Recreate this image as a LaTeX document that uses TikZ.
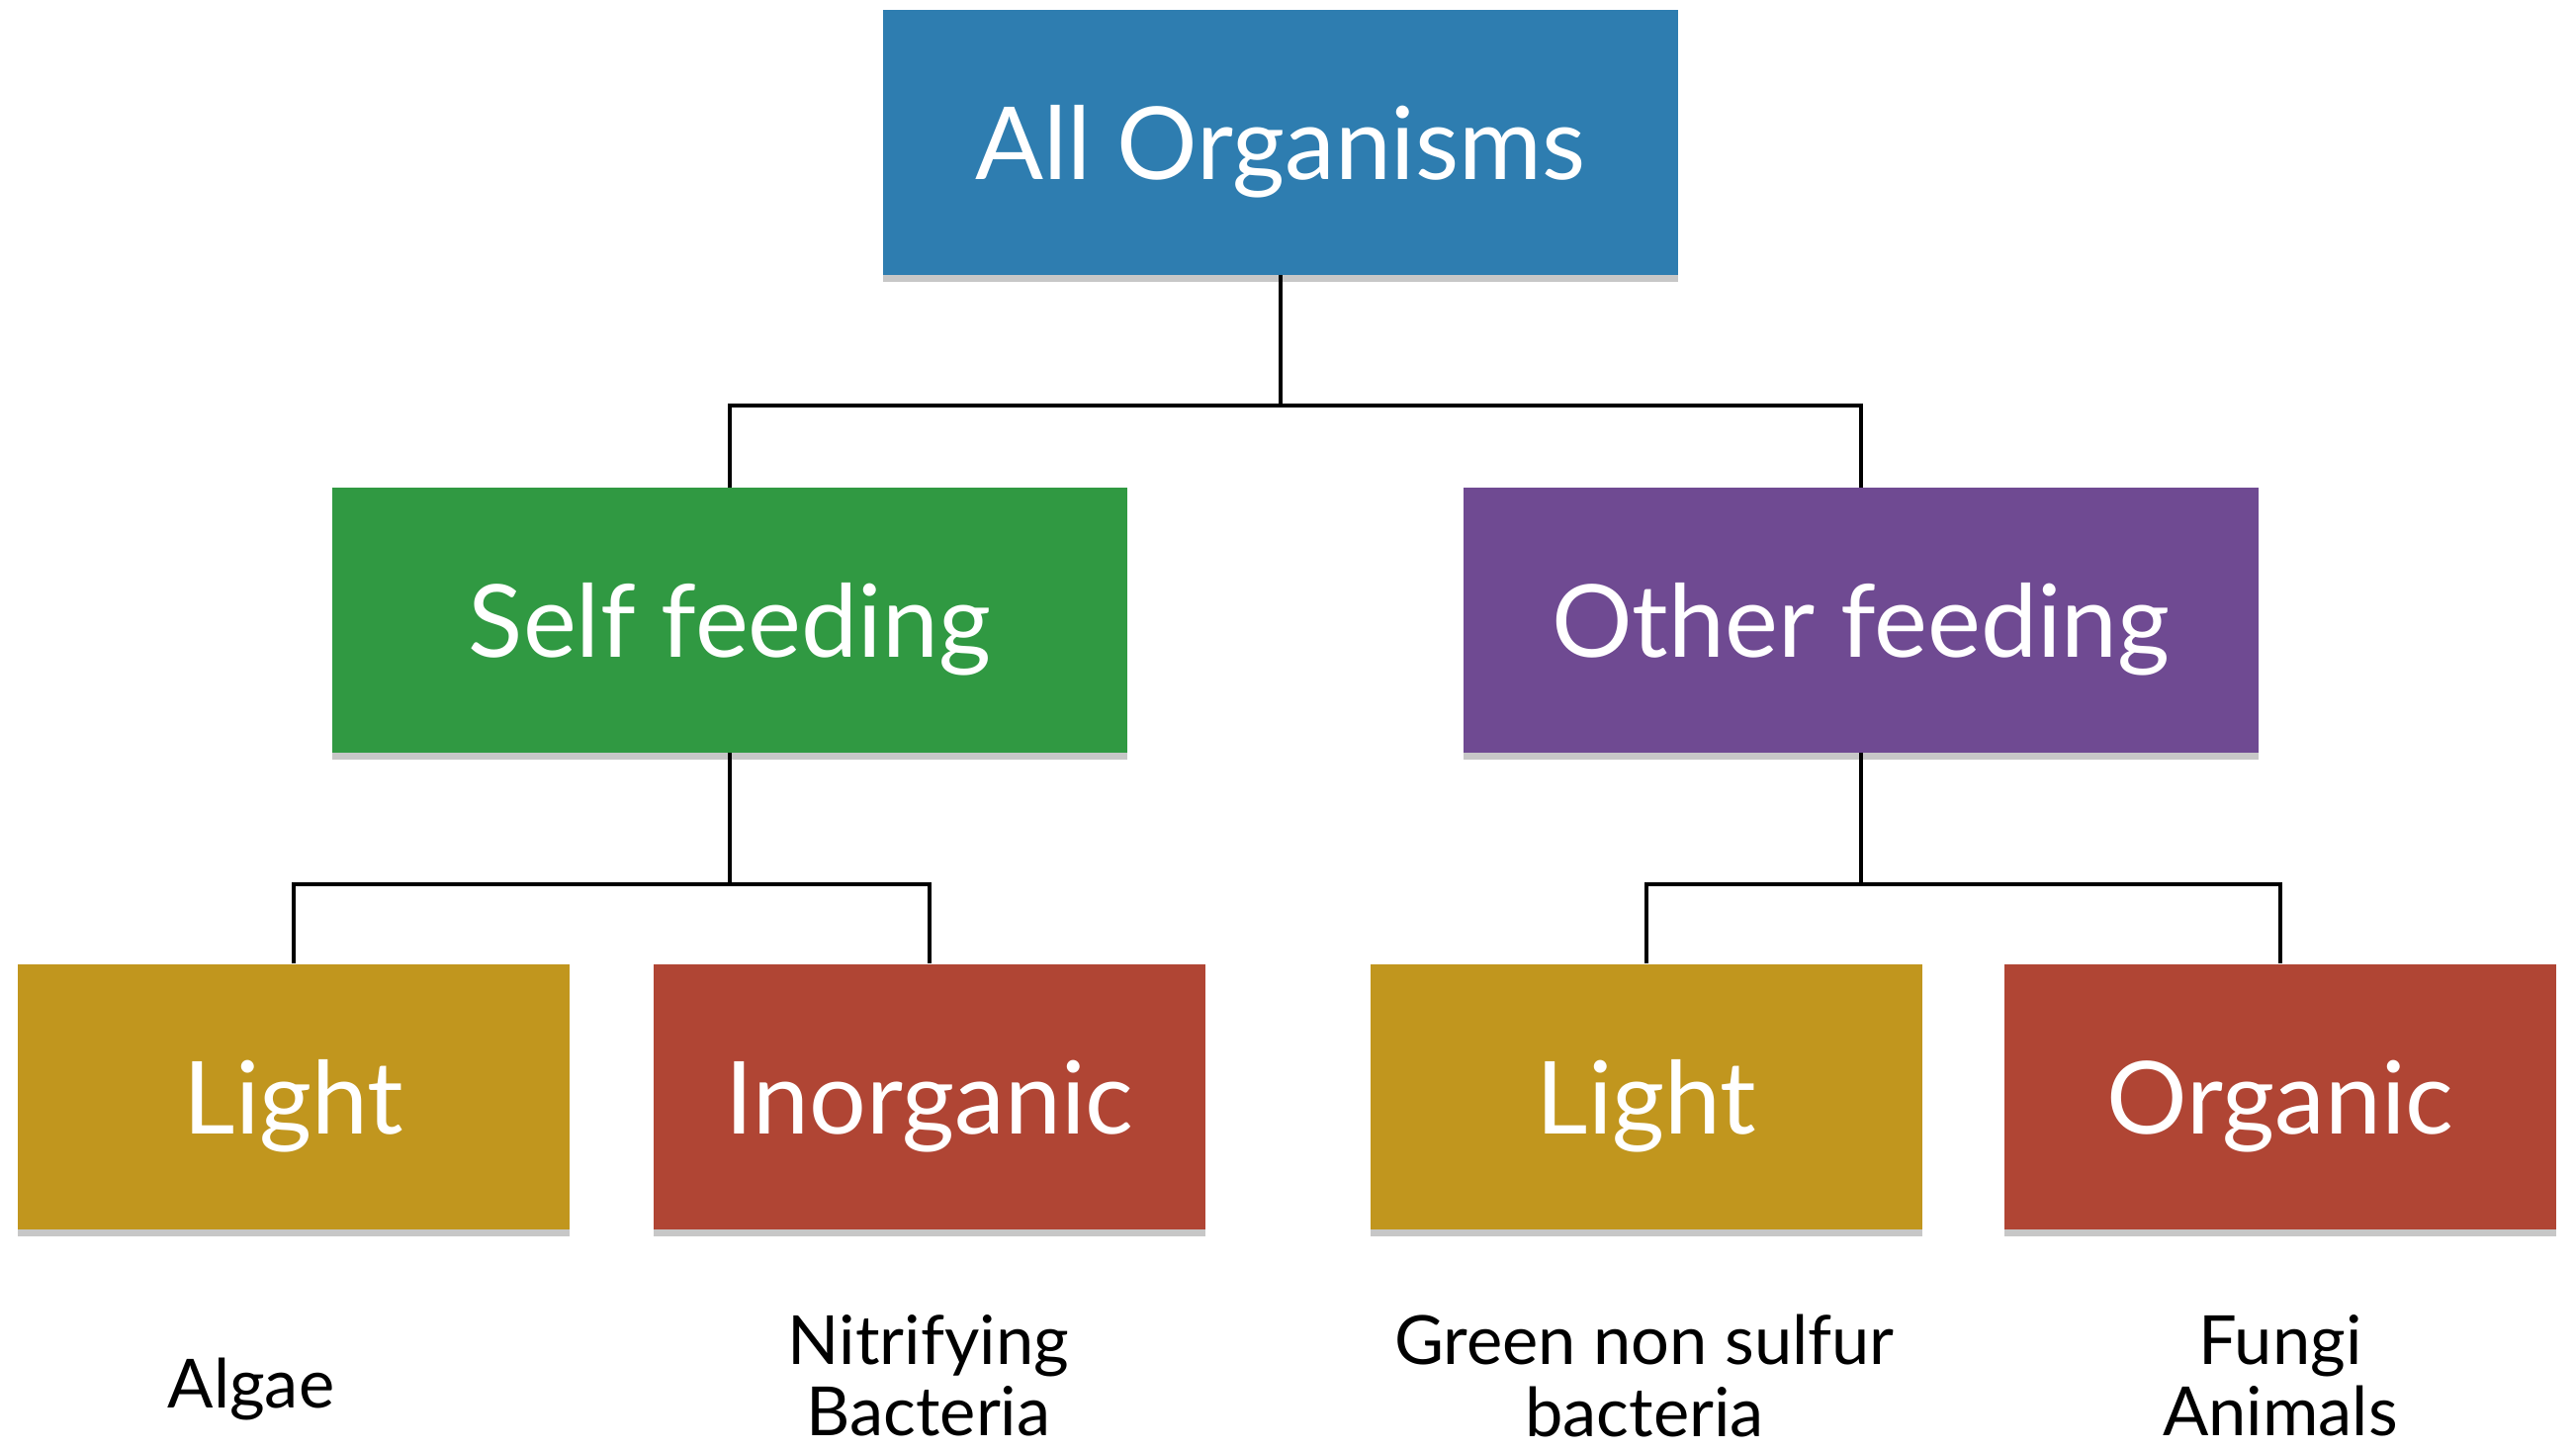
\documentclass[tikz,border=0pt]{standalone}
\usepackage{fontspec}
\setmainfont{Lato}
\usetikzlibrary{shadows}

\definecolor{topblue}{RGB}{46,125,176}
\definecolor{selfgreen}{RGB}{48,153,66}
\definecolor{otherpurple}{RGB}{111,74,146}
\definecolor{lightgold}{RGB}{193,150,30}
\definecolor{chemred}{RGB}{176,69,52}

\tikzset{
  box/.style={rectangle, inner sep=0pt, text=white, text depth=0pt,
    font=\fontsize{29}{33}\selectfont,
    drop shadow={shadow xshift=0pt, shadow yshift=-2pt, opacity=0.22, fill=black}},
  bigbox/.style={box, minimum width=8.04cm, minimum height=2.67cm},
  smallbox/.style={box, minimum width=5.58cm, minimum height=2.68cm},
  example/.style={align=center, inner sep=0pt,
    font=\fontsize{19.5}{20.5}\selectfont},
  link/.style={black, line width=1.2pt}
}

\begin{document}
\begin{tikzpicture}[x=0.01cm,y=0.01cm]
\useasboundingbox (0,0) rectangle (2605,-1467);
% top of the tree
\node [bigbox, fill=topblue] (all) at (1295,-144) {All Organisms};
% how they feed
\node [bigbox, fill=selfgreen] (self) at (738,-627) {Self feeding};
\node [bigbox, fill=otherpurple] (other) at (1882,-627) {Other feeding};
% energy source
\node [smallbox, fill=lightgold] (light1) at (297,-1109) {Light};
\node [smallbox, fill=chemred] (inorg) at (940,-1109) {Inorganic};
\node [smallbox, fill=lightgold] (light2) at (1665,-1109) {Light};
\node [smallbox, fill=chemred] (org) at (2306,-1109) {Organic};
% examples
\node [example] (algae) at (254,-1404) {Algae};
\node [example] (nitri) at (939,-1391) {Nitrifying\\Bacteria};
\node [example] (green) at (1663,-1391) {Green non sulfur\\bacteria};
\node [example] (fungi) at (2306,-1391) {Fungi\\Animals};
% connectors
\draw [link] (all.south) -- ++(0,-132) coordinate (b1);
\draw [link] (self.north) |- (b1) -| (other.north);
\draw [link] (self.south) -- ++(0,-133) coordinate (b2);
\draw [link] (light1.north) |- (b2) -| (inorg.north);
\draw [link] (other.south) -- ++(0,-133) coordinate (b3);
\draw [link] (light2.north) |- (b3) -| (org.north);
\end{tikzpicture}
\end{document}
